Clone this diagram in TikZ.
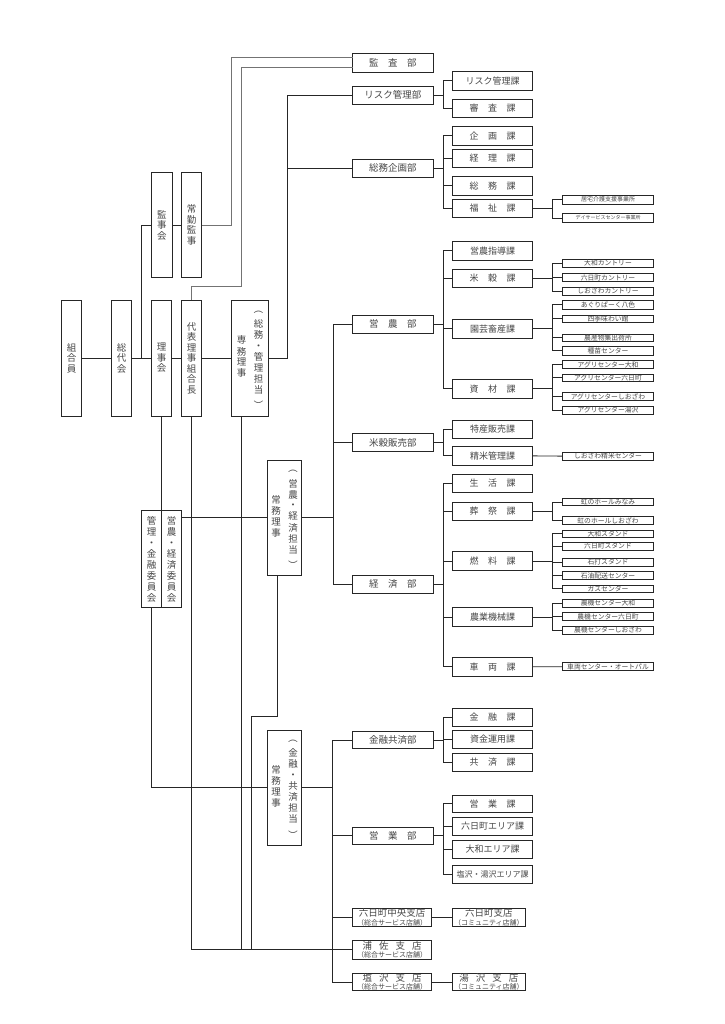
\documentclass[tikz,border=0pt]{standalone}
\usepackage{fontspec}
\usepackage{graphicx}
\setmainfont{Noto Sans CJK JP}
\usetikzlibrary{calc}
\newcommand{\jgap}{\hspace{9.5pt}}
\newcommand{\bgap}{\hspace{7pt}}
\newcommand{\brsmall}{\fontsize{7}{7.5}\selectfont}
\newcommand{\vopen}{\rotatebox[origin=c]{-90}{（}}
\newcommand{\vclose}{\rotatebox[origin=c]{-90}{）}}
\newcommand{\twocol}[2]{\begin{tabular}{@{}c@{\hspace{7.5pt}}c@{}}\begin{tabular}{@{}c@{}}#1\end{tabular}&\begin{tabular}{@{}c@{}}#2\end{tabular}\end{tabular}}
\newcommand{\ob}[7][]{\node[bx,minimum width={(#4-#2)*1pt},minimum height={(#5-#3)*1pt},#1] (#6) at ({(#2+#4)/2},{(#3+#5)/2}) {#7};}
\tikzset{
  bx/.style={draw=black!85, line width=0.9pt, inner sep=0pt, outer sep=0pt, fill=white, text=black!72, font=\fontsize{9}{10}\selectfont, align=center},
  dept/.style={font=\fontsize{9.5}{10}\selectfont},
  br/.style={font=\fontsize{9.5}{10}\selectfont},
  sub/.style={line width=0.8pt, font=\fontsize{6.8}{7}\selectfont},
  vbox/.style={font=\fontsize{9.5}{10.5}\selectfont},
  ln/.style={draw=black!85, line width=0.8pt},
  gln/.style={draw=black!55, line width=0.8pt},
}
\begin{document}
\begin{tikzpicture}[x=1pt,y=-1pt]
\fill[white] (0,0) rectangle (724,1024);
\useasboundingbox (0,0) rectangle (724,1024);

% departments
\ob[dept]{352.7}{53.3}{433}{72}{kansa}{監\jgap 査\jgap 部}
\ob[dept]{352.7}{86}{433}{104}{risk}{リスク管理部}
\ob[dept]{352.7}{159}{433}{177.3}{somu}{総務企画部}
\ob[dept]{352.7}{315}{433}{333.3}{einou}{営\jgap 農\jgap 部}
\ob[dept]{352.7}{433.3}{433}{451.7}{beihan}{米穀販売部}
\ob[dept]{352.7}{575}{433}{593.3}{keizai}{経\jgap 済\jgap 部}
\ob[dept]{352.7}{731.7}{433}{748.3}{kinkyo}{金融共済部}
\ob[dept]{352.7}{827.3}{433}{844}{eigyo}{営\jgap 業\jgap 部}
\ob[br]{352.7}{908.3}{431.7}{926.7}{muikac}{六日町中央支店\\[-1.5pt]{\brsmall （総合サービス店舗）}}
\ob[br]{352.7}{940}{431.7}{959.3}{urasa}{浦\bgap 佐\bgap 支\bgap 店\\[-1.5pt]{\brsmall （総合サービス店舗）}}
\ob[br]{352.7}{973.3}{431.7}{990.7}{shiozawa}{塩\bgap 沢\bgap 支\bgap 店\\[-1.5pt]{\brsmall （総合サービス店舗）}}
\ob[br]{452.7}{908.3}{525}{926.7}{muikas}{六日町支店\\[-1.5pt]{\brsmall （コミュニティ店舗）}}
\ob[br]{452.7}{973.3}{525}{990.7}{yuzawa}{湯\bgap 沢\bgap 支\bgap 店\\[-1.5pt]{\brsmall （コミュニティ店舗）}}

% sections
\ob{452.7}{71.7}{532.7}{90}{riskka}{リスク管理課}
\ob{452.7}{99.3}{532.7}{117.3}{shinsa}{審\jgap 査\jgap 課}
\ob{452.7}{126.7}{532.7}{145}{kikaku}{企\jgap 画\jgap 課}
\ob{452.7}{149.3}{532.7}{167.3}{keiri}{経\jgap 理\jgap 課}
\ob{452.7}{176.7}{532.7}{195}{somuka}{総\jgap 務\jgap 課}
\ob{452.7}{199.3}{532.7}{217.3}{fukushi}{福\jgap 祉\jgap 課}
\ob{452.7}{241.7}{532.7}{260}{shido}{営農指導課}
\ob{452.7}{269.3}{532.7}{287.3}{beikoku}{米\jgap 穀\jgap 課}
\ob{452.7}{319.3}{532.7}{338.3}{engei}{園芸畜産課}
\ob{452.7}{379.3}{532.7}{398.3}{shizai}{資\jgap 材\jgap 課}
\ob{452.7}{420}{532.7}{438.3}{tokusan}{特産販売課}
\ob{452.7}{446.7}{532.7}{465}{seimai}{精米管理課}
\ob{452.7}{474.3}{532.7}{492.3}{seikatsu}{生\jgap 活\jgap 課}
\ob{452.7}{502.3}{532.7}{520}{sosai}{葬\jgap 祭\jgap 課}
\ob{452.7}{551.7}{532.7}{570.7}{nenryo}{燃\jgap 料\jgap 課}
\ob{452.7}{607.3}{532.7}{626.7}{kikai}{農業機械課}
\ob{452.7}{657.3}{532.7}{676}{sharyo}{車\jgap 両\jgap 課}
\ob{452.7}{708.3}{532.7}{726}{kinyuka}{金\jgap 融\jgap 課}
\ob{452.7}{730.7}{532.7}{748.3}{shikin}{資金運用課}
\ob{452.7}{753.3}{532.7}{771.7}{kyosai}{共\jgap 済\jgap 課}
\ob{452.7}{795}{532.7}{812.7}{eigyoka}{営\jgap 業\jgap 課}
\ob{452.7}{817.3}{532.7}{835}{muikaarea}{六日町エリア課}
\ob{452.7}{840}{532.7}{858.3}{yamatoarea}{大和エリア課}
\ob[font=\fontsize{8}{9}\selectfont]{452.7}{865}{532.7}{883.3}{shioarea}{塩沢・湯沢エリア課}

% sub units
\ob[sub,font=\fontsize{6}{7}\selectfont]{562.7}{195}{653.3}{204}{kyotaku}{居宅介護支援事業所}
\ob[sub,font=\fontsize{5}{6}\selectfont]{562.7}{213.3}{653.3}{222.7}{day}{デイサービスセンター事業所}
\ob[sub]{562.7}{259.3}{653.3}{267.3}{yamatoc}{大和カントリー}
\ob[sub]{562.7}{273.3}{653.3}{281.7}{muikacn}{六日町カントリー}
\ob[sub]{562.7}{287.3}{653.3}{295}{shioc}{しおざわカントリー}
\ob[sub]{562.7}{300.7}{653.3}{309}{aguri}{あぐりぱーく八色}
\ob[sub]{562.7}{315}{653.3}{322.7}{shiki}{四季味わい館}
\ob[sub]{562.7}{334}{653.3}{341.7}{nousan}{農産物集出荷所}
\ob[sub]{562.7}{346.7}{653.3}{355}{shubyo}{種苗センター}
\ob[sub]{562.7}{360.7}{653.3}{368.3}{agone}{アグリセンター大和}
\ob[sub]{562.7}{374}{653.3}{381.7}{agtwo}{アグリセンター六日町}
\ob[sub]{562.7}{392.7}{653.3}{400.7}{agthree}{アグリセンターしおざわ}
\ob[sub]{562.7}{406}{653.3}{414}{agfour}{アグリセンター湯沢}
\ob[sub]{562.7}{452.3}{653.3}{460}{seimaic}{しおざわ精米センター}
\ob[sub]{562.7}{498.3}{653.3}{505.7}{nijione}{虹のホールみなみ}
\ob[sub]{562.7}{516.7}{653.3}{524.3}{nijitwo}{虹のホールしおざわ}
\ob[sub]{562.7}{530}{653.3}{537.7}{stone}{大和スタンド}
\ob[sub]{562.7}{542.3}{653.3}{550}{sttwo}{六日町スタンド}
\ob[sub]{562.7}{558.3}{653.3}{566}{stthree}{石打スタンド}
\ob[sub]{562.7}{571.7}{653.3}{579.3}{stfour}{石油配送センター}
\ob[sub]{562.7}{585}{653.3}{592.7}{stfive}{ガスセンター}
\ob[sub]{562.7}{599.3}{653.3}{607.3}{nkone}{農機センター大和}
\ob[sub]{562.7}{612.7}{653.3}{620.7}{nktwo}{農機センター六日町}
\ob[sub]{562.7}{626}{653.3}{634}{nkthree}{農機センターしおざわ}
\ob[sub]{562.7}{662.7}{653.3}{670.7}{sharyoc}{車両センター・オートパル}

% left vertical boxes
\ob[vbox]{61.7}{300}{81.7}{416}{kumiai}{組\\合\\員}
\ob[vbox]{111.7}{300}{131.7}{416}{sodai}{総\\代\\会}
\ob[vbox]{151.7}{300}{171.7}{416}{rijikai}{理\\事\\会}
\ob[vbox]{181.7}{300}{201.7}{416}{daihyo}{代\\表\\理\\事\\組\\合\\長}
\ob[vbox]{231.7}{300}{268.3}{416}{senmu}{\twocol{専\\務\\理\\事}{\vopen\\[4pt]総\\務\\・\\管\\理\\担\\当\\[4pt]\vclose}}
\ob[vbox]{151.7}{172.3}{172}{277.7}{kanjikai}{監\\事\\会}
\ob[vbox]{181.7}{172.3}{201.7}{277.7}{jokin}{常\\勤\\監\\事}
\ob[vbox,font=\fontsize{9.5}{11}\selectfont]{141.7}{510.7}{161.7}{607.3}{kanri}{管\\理\\・\\金\\融\\委\\員\\会}
\ob[vbox,font=\fontsize{9.5}{11}\selectfont]{161.7}{510.7}{181.7}{607.3}{eiin}{営\\農\\・\\経\\済\\委\\員\\会}
\ob[vbox]{267.3}{460}{301.7}{575.7}{jomuone}{\twocol{常\\務\\理\\事}{\vopen\\[4pt]営\\農\\・\\経\\済\\担\\当\\[4pt]\vclose}}
\ob[vbox]{267.3}{730}{301.7}{845}{jomutwo}{\twocol{常\\務\\理\\事}{\vopen\\[4pt]金\\融\\・\\共\\済\\担\\当\\[4pt]\vclose}}

% connectors: left chain
\draw[ln] (kumiai) -- (sodai);
\draw[ln] (sodai) -- (rijikai);
\draw[ln] (rijikai) -- (daihyo);
\draw[ln] (daihyo) -- (senmu);
\draw[ln] (kanjikai) -- (jokin);
\draw[ln] (kanjikai.west) -- ++(-10,0) |- (rijikai.west);
% audit lines
\coordinate (ca) at (241.7,286.7);
\draw[gln] (jokin.east) -- ++(30,0) |- ([yshift=5pt]kansa.west);
\draw[gln] (daihyo.north) |- (ca) |- ([yshift=-4.6pt]kansa.west);
% senmu branch
\draw[ln] (senmu.east) -- ++(19.4,0) |- (risk.west);
\draw[ln] (senmu.east) -- ++(19.4,0) |- (somu.west);
% committees
\draw[ln] (rijikai.south) -- (kanri.north east);
\draw[ln] (eiin.east |- jomuone.west) -- (jomuone.west);
\draw[ln] (kanri.south) |- (jomutwo.west);
% jomu one branch
\foreach \d in {einou,beihan,keizai} {\draw[ln] (jomuone.east) -- ++(31.6,0) |- (\d.west);}
% jomu two branch
\foreach \d in {kinkyo,eigyo,muikac,urasa,shiozawa} {\draw[ln] (jomutwo.east) -- ++(30.6,0) |- (\d.west);}
% long verticals to urasa
\coordinate (cb) at (251.7,716.7);
\draw[ln] (daihyo.south) |- (urasa.west);
\draw[ln] ([xshift=-8.3pt]senmu.south) -- ([xshift=-8.3pt]senmu.south |- urasa.west);
\draw[ln] ([xshift=-7.2pt]jomuone.south) |- (cb) -- (cb |- urasa.west);
% branches to community stores
\draw[ln] (muikac) -- (muikas);
\draw[ln] (shiozawa) -- (yuzawa);
% sections
\foreach \s in {riskka,shinsa} {\draw[ln] (risk.east) -- ++(10,0) |- (\s.west);}
\foreach \s in {kikaku,keiri,somuka,fukushi} {\draw[ln] (somu.east) -- ++(10,0) |- (\s.west);}
\foreach \s in {shido,beikoku,engei,shizai} {\draw[ln] (einou.east) -- ++(10,0) |- (\s.west);}
\foreach \s in {tokusan,seimai} {\draw[ln] (beihan.east) -- ++(10,0) |- (\s.west);}
\foreach \s in {seikatsu,sosai,nenryo,kikai,sharyo} {\draw[ln] (keizai.east) -- ++(10,0) |- (\s.west);}
\foreach \s in {kinyuka,shikin,kyosai} {\draw[ln] (kinkyo.east) -- ++(10,0) |- (\s.west);}
\foreach \s in {eigyoka,muikaarea,yamatoarea,shioarea} {\draw[ln] (eigyo.east) -- ++(10,0) |- (\s.west);}
% sub units
\foreach \s in {kyotaku,day} {\draw[ln] (fukushi.east) -- ++(20,0) |- (\s.west);}
\foreach \s in {yamatoc,muikacn,shioc} {\draw[ln] (beikoku.east) -- ++(20,0) |- (\s.west);}
\foreach \s in {aguri,shiki,nousan,shubyo} {\draw[ln] (engei.east) -- ++(20,0) |- (\s.west);}
\foreach \s in {agone,agtwo,agthree,agfour} {\draw[ln] (shizai.east) -- ++(20,0) |- (\s.west);}
\foreach \s in {nijione,nijitwo} {\draw[ln] (sosai.east) -- ++(20,0) |- (\s.west);}
\foreach \s in {stone,sttwo,stthree,stfour,stfive} {\draw[ln] (nenryo.east) -- ++(20,0) |- (\s.west);}
\foreach \s in {nkone,nktwo,nkthree} {\draw[ln] (kikai.east) -- ++(20,0) |- (\s.west);}
\draw[ln] (seimai.east) -- (seimaic.west);
\draw[ln] (sharyo.east) -- (sharyoc.west);
\end{tikzpicture}
\end{document}
